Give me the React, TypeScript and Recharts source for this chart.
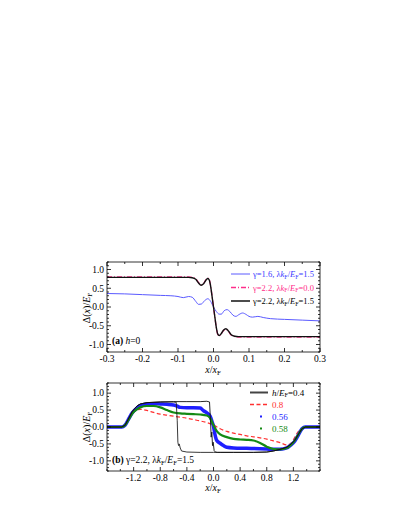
import React from "react";
import { LineChart, Line, XAxis, YAxis } from "recharts";

// panel (a): h = 0
const xBlueA = [-0.3, -0.25, -0.2, -0.15, -0.12, -0.1, -0.085, -0.07, -0.06, -0.05, -0.042, -0.034, -0.025, -0.016, -0.008, 0, 0.008, 0.016, 0.022, 0.03, 0.038, 0.046, 0.055, 0.063, 0.072, 0.082, 0.092, 0.1, 0.11, 0.125, 0.14, 0.16, 0.2, 0.25, 0.3];
const yBlueA = [0.36, 0.35, 0.33, 0.31, 0.3, 0.28, 0.25, 0.28, 0.26, 0.15, 0.07, 0.08, 0.17, 0.22, 0.15, 0.0, -0.12, -0.19, -0.19, -0.1, -0.07, -0.12, -0.22, -0.25, -0.2, -0.16, -0.2, -0.25, -0.27, -0.25, -0.28, -0.31, -0.33, -0.35, -0.37];

const xPinkA = [-0.3, -0.2, -0.1, -0.07, -0.06, -0.05, -0.042, -0.035, -0.028, -0.021, -0.016, -0.012, -0.008, -0.004, 0, 0.004, 0.008, 0.012, 0.016, 0.021, 0.028, 0.035, 0.042, 0.05, 0.06, 0.07, 0.1, 0.2, 0.3];
const yPinkA = [0.8, 0.8, 0.8, 0.8, 0.79, 0.75, 0.65, 0.59, 0.63, 0.73, 0.77, 0.73, 0.56, 0.28, 0, -0.28, -0.56, -0.73, -0.77, -0.73, -0.63, -0.59, -0.65, -0.75, -0.79, -0.8, -0.8, -0.8, -0.8];

const xBlackA = [-0.3, -0.2, -0.1, -0.07, -0.06, -0.05, -0.042, -0.035, -0.028, -0.021, -0.016, -0.012, -0.008, -0.004, 0, 0.004, 0.008, 0.012, 0.016, 0.021, 0.028, 0.035, 0.042, 0.05, 0.06, 0.07, 0.1, 0.2, 0.3];
const yBlackA = [0.79, 0.79, 0.79, 0.79, 0.78, 0.74, 0.64, 0.58, 0.62, 0.72, 0.76, 0.72, 0.55, 0.28, 0, -0.28, -0.55, -0.72, -0.76, -0.72, -0.62, -0.58, -0.64, -0.74, -0.78, -0.79, -0.79, -0.79, -0.79];

// panel (b): gamma = 2.2, lambda kF/EF = 1.5
const xRedB = [-1.6, -1.4, -1.35, -1.3, -1.25, -1.2, -1.15, -1.1, -1.0, -0.9, -0.8, -0.7, -0.6, -0.5, -0.4, -0.3, -0.2, -0.1, 0, 0.1, 0.2, 0.3, 0.4, 0.5, 0.6, 0.7, 0.8, 0.9, 1.0, 1.1, 1.15, 1.2, 1.25, 1.3, 1.35, 1.4, 1.6];
const yRedB = [0, 0, 0.02, 0.12, 0.3, 0.44, 0.5, 0.52, 0.49, 0.43, 0.38, 0.35, 0.32, 0.29, 0.26, 0.22, 0.18, 0.13, 0.06, -0.05, -0.13, -0.18, -0.22, -0.26, -0.29, -0.32, -0.36, -0.41, -0.46, -0.53, -0.5, -0.38, -0.2, -0.08, -0.02, 0, 0];

const xBlueB = [-1.6, -1.38, -1.33, -1.28, -1.22, -1.15, -1.1, -1.0, -0.9, -0.8, -0.7, -0.6, -0.55, -0.5, -0.4, -0.3, -0.2, -0.15, -0.1, -0.05, -0.02, 0, 0.02, 0.05, 0.1, 0.15, 0.2, 0.3, 0.5, 0.7, 0.8, 0.9, 1.0, 1.1, 1.15, 1.22, 1.28, 1.33, 1.38, 1.6];
const yBlueB = [0, 0, 0.05, 0.22, 0.42, 0.56, 0.63, 0.68, 0.69, 0.68, 0.67, 0.65, 0.62, 0.58, 0.57, 0.57, 0.56, 0.48, 0.42, 0.32, 0.15, 0.02, -0.2, -0.4, -0.48, -0.55, -0.6, -0.62, -0.63, -0.64, -0.65, -0.66, -0.66, -0.62, -0.55, -0.42, -0.22, -0.05, 0, 0];

const xGreenB = [-1.6, -1.38, -1.33, -1.28, -1.22, -1.15, -1.1, -1.0, -0.9, -0.8, -0.7, -0.6, -0.5, -0.4, -0.3, -0.2, -0.1, -0.05, 0, 0.05, 0.1, 0.2, 0.3, 0.4, 0.5, 0.6, 0.7, 0.8, 0.9, 1.0, 1.1, 1.15, 1.22, 1.28, 1.33, 1.38, 1.6];
const yGreenB = [0, 0, 0.05, 0.2, 0.4, 0.52, 0.58, 0.62, 0.62, 0.58, 0.5, 0.43, 0.4, 0.39, 0.38, 0.37, 0.34, 0.26, 0.05, -0.12, -0.22, -0.3, -0.35, -0.37, -0.38, -0.4, -0.47, -0.58, -0.65, -0.66, -0.62, -0.55, -0.4, -0.2, -0.05, 0, 0];

const xBlk1B = [-1.6, -1.38, -1.33, -1.28, -1.22, -1.15, -1.1, -1.0, -0.8, -0.6, -0.4, -0.2, -0.1, -0.06, -0.045, -0.035, -0.025, -0.015, -0.005, 0.01, 0.03, 0.06, 0.1, 0.3, 0.6, 0.8, 0.9, 1.0, 1.1, 1.15, 1.22, 1.28, 1.33, 1.38, 1.6];
const yBlk1B = [0, 0, 0.05, 0.23, 0.46, 0.62, 0.68, 0.72, 0.74, 0.75, 0.75, 0.75, 0.76, 0.74, 0.2, -0.3, -0.15, -0.55, -0.45, -0.7, -0.74, -0.75, -0.75, -0.75, -0.75, -0.74, -0.71, -0.66, -0.6, -0.53, -0.4, -0.2, -0.05, 0, 0];

const xBlk2B = [-1.6, -1.38, -1.33, -1.28, -1.22, -1.15, -1.1, -1.0, -0.8, -0.6, -0.56, -0.545, -0.535, -0.525, -0.515, -0.5, -0.48, -0.4, -0.2, 0, 0.1, 0.3, 0.6, 0.8, 0.9, 1.0, 1.1, 1.15, 1.22, 1.28, 1.33, 1.38, 1.6];
const yBlk2B = [0, 0, 0.05, 0.23, 0.46, 0.62, 0.68, 0.72, 0.74, 0.74, 0.73, 0.2, -0.45, -0.55, -0.5, -0.62, -0.71, -0.74, -0.75, -0.75, -0.75, -0.75, -0.75, -0.74, -0.71, -0.66, -0.6, -0.53, -0.4, -0.2, -0.05, 0, 0];

// tick labels
const xMajorA = [-0.3, -0.2, -0.1, 0, 0.1, 0.2, 0.3];
const xMajorB = [-1.2, -0.8, -0.4, 0, 0.4, 0.8, 1.2];
const yMajor = [-1.0, -0.5, 0, 0.5, 1.0];

const FONT = "'Liberation Serif', 'Times New Roman', Tinos, 'DejaVu Serif', serif";

const pts = (xs: number[], ys: number[]) => xs.map((x, i) => ({ x, y: ys[i] }));

const grid = (lo: number, hi: number, step: number) => {
  const out: number[] = [];
  const n = Math.round((hi - lo) / step);
  for (let i = 0; i <= n; i++) out.push(Math.round((lo + i * step) * 1e6) / 1e6);
  return out;
};

type Side = "bottom" | "top" | "left" | "right";

const makeTick = (side: Side, majors: number[], labels: boolean) => (p: any) => {
  const { x, y, payload } = p;
  const v = payload.value as number;
  const major = majors.some((m) => Math.abs(m - v) < 1e-6);
  const len = major ? 4 : 2;
  let x2 = x, y2 = y;
  if (side === "bottom") y2 = y - len;
  if (side === "top") y2 = y + len;
  if (side === "left") x2 = x + len;
  if (side === "right") x2 = x - len;
  return (
    <g>
      <line x1={x} y1={y} x2={x2} y2={y2} stroke="#000" strokeWidth={0.8} />
      {labels && major && side === "bottom" && (
        <text x={x} y={y + 10} textAnchor="middle" fontSize={9.5} fontFamily={FONT} fill="#000">
          {v.toFixed(1)}
        </text>
      )}
      {labels && major && side === "left" && (
        <text x={x - 3} y={y + 3.3} textAnchor="end" fontSize={9.5} fontFamily={FONT} fill="#000">
          {v.toFixed(1)}
        </text>
      )}
    </g>
  );
};

const Sub = ({ children }: { children: React.ReactNode }) => (
  <span style={{ fontSize: "0.7em", position: "relative", top: "0.3em" }}>{children}</span>
);

const Lbl = ({ x, y, size = 9, color = "#000", children }: any) => (
  <div
    style={{
      position: "absolute",
      left: x,
      top: y,
      transform: "translateY(-50%)",
      fontFamily: FONT,
      fontSize: size,
      color,
      lineHeight: 1,
      whiteSpace: "nowrap",
    }}
  >
    {children}
  </div>
);

const YTitle = ({ y }: { y: number }) => (
  <div
    style={{
      position: "absolute",
      left: 87,
      top: y,
      transform: "translate(-50%, -50%) rotate(-90deg)",
      fontFamily: FONT,
      fontSize: 10,
      whiteSpace: "nowrap",
      lineHeight: 1,
    }}
  >
    Δ(<i>x</i>)/<i>E</i>
    <Sub>F</Sub>
  </div>
);

const XTitle = ({ y }: { y: number }) => (
  <div
    style={{
      position: "absolute",
      left: 213,
      top: y,
      transform: "translate(-50%, -50%)",
      fontFamily: FONT,
      fontSize: 10,
      whiteSpace: "nowrap",
      lineHeight: 1,
    }}
  >
    <i>x</i>/<i>x</i>
    <Sub>F</Sub>
  </div>
);

export default function App() {
  const xtA = grid(-0.3, 0.3, 0.05);
  const xtB = grid(-1.6, 1.6, 0.2);
  const ytA = grid(-1.2, 1.2, 0.1);
  const ytB = grid(-1.3, 1.3, 0.1);
  const ax = { stroke: "#000", strokeWidth: 0.8 };
  return (
    <div style={{ position: "absolute", left: 0, top: 0, width: 399, height: 516, background: "#fff" }}>
      <div style={{ position: "absolute", left: 0, top: 240 }}>
        <LineChart width={399} height={140} margin={{ top: 17, right: 74, bottom: 8, left: 77 }}>
          <XAxis dataKey="x" type="number" domain={[-0.3, 0.3]} ticks={xtA} interval={0} tickSize={0} tickMargin={0} tickLine={false} tick={makeTick("bottom", xMajorA, true)} axisLine={ax} height={20} allowDataOverflow />
          <XAxis xAxisId="top" orientation="top" dataKey="x" type="number" domain={[-0.3, 0.3]} ticks={xtA} interval={0} tickSize={0} tickMargin={0} tickLine={false} tick={makeTick("top", xMajorA, false)} axisLine={ax} height={5} allowDataOverflow />
          <YAxis type="number" domain={[-1.2, 1.2]} ticks={ytA} interval={0} tickSize={0} tickMargin={0} tickLine={false} tick={makeTick("left", yMajor, true)} axisLine={ax} width={30} allowDataOverflow />
          <YAxis yAxisId="right" orientation="right" type="number" domain={[-1.2, 1.2]} ticks={ytA} interval={0} tickSize={0} tickMargin={0} tickLine={false} tick={makeTick("right", yMajor, false)} axisLine={ax} width={5} allowDataOverflow />
          <Line data={pts(xBlueA, yBlueA)} dataKey="y" type="monotone" stroke="#5a5aff" strokeWidth={1} dot={false} isAnimationActive={false} />
          <Line data={pts(xPinkA, yPinkA)} dataKey="y" type="monotone" stroke="#ff2d8a" strokeWidth={1.3} strokeDasharray="5 2 1 2" dot={false} isAnimationActive={false} />
          <Line data={pts(xBlackA, yBlackA)} dataKey="y" type="monotone" stroke="#111" strokeWidth={1.4} dot={false} isAnimationActive={false} />
        </LineChart>
      </div>

      <div style={{ position: "absolute", left: 0, top: 370 }}>
        <LineChart width={399} height={120} margin={{ top: 8, right: 74, bottom: 0, left: 77 }}>
          <XAxis dataKey="x" type="number" domain={[-1.6, 1.6]} ticks={xtB} interval={0} tickSize={0} tickMargin={0} tickLine={false} tick={makeTick("bottom", xMajorB, true)} axisLine={ax} height={19} allowDataOverflow />
          <XAxis xAxisId="top" orientation="top" dataKey="x" type="number" domain={[-1.6, 1.6]} ticks={xtB} interval={0} tickSize={0} tickMargin={0} tickLine={false} tick={makeTick("top", xMajorB, false)} axisLine={ax} height={5} allowDataOverflow />
          <YAxis type="number" domain={[-1.3, 1.3]} ticks={ytB} interval={0} tickSize={0} tickMargin={0} tickLine={false} tick={makeTick("left", yMajor, true)} axisLine={ax} width={30} allowDataOverflow />
          <YAxis yAxisId="right" orientation="right" type="number" domain={[-1.3, 1.3]} ticks={ytB} interval={0} tickSize={0} tickMargin={0} tickLine={false} tick={makeTick("right", yMajor, false)} axisLine={ax} width={5} allowDataOverflow />
          <Line data={pts(xRedB, yRedB)} dataKey="y" type="monotone" stroke="#ff3030" strokeWidth={1.2} strokeDasharray="4 2.5" dot={false} isAnimationActive={false} />
          <Line data={pts(xBlueB, yBlueB)} dataKey="y" type="monotone" stroke="#1f1fff" strokeWidth={3.5} dot={false} isAnimationActive={false} />
          <Line data={pts(xGreenB, yGreenB)} dataKey="y" type="monotone" stroke="#148a14" strokeWidth={2.2} dot={false} isAnimationActive={false} />
          <Line data={pts(xBlk2B, yBlk2B)} dataKey="y" type="linear" stroke="#222" strokeWidth={0.9} dot={false} isAnimationActive={false} />
          <Line data={pts(xBlk1B, yBlk1B)} dataKey="y" type="linear" stroke="#111" strokeWidth={0.9} dot={false} isAnimationActive={false} />
        </LineChart>
      </div>

      {/* legend samples */}
      <svg width={399} height={516} style={{ position: "absolute", left: 0, top: 0, pointerEvents: "none" }}>
        <line x1={231} x2={250} y1={274} y2={274} stroke="#5a5aff" strokeWidth={1} />
        <line x1={231} x2={250} y1={287.5} y2={287.5} stroke="#ff2d8a" strokeWidth={1.3} strokeDasharray="5 2 1 2" />
        <line x1={231} x2={250} y1={301} y2={301} stroke="#111" strokeWidth={1.5} />
        <line x1={250} x2={268} y1={392.5} y2={392.5} stroke="#444" strokeWidth={2} />
        <line x1={250} x2={268} y1={404.5} y2={404.5} stroke="#ff3030" strokeWidth={1.3} strokeDasharray="4 2.5" />
        <rect x={260} y={415.5} width={2} height={2} fill="#1f1fff" />
        <rect x={260} y={427.5} width={2} height={2} fill="#148a14" />
      </svg>

      <Lbl x={253} y={274} size={8.5} color="#3a3aff">
        γ=1.6, λ<i>k</i><Sub>F</Sub>/<i>E</i><Sub>F</Sub>=1.5
      </Lbl>
      <Lbl x={253} y={287.5} size={8.5} color="#ff2d8a">
        γ=2.2, λ<i>k</i><Sub>F</Sub>/<i>E</i><Sub>F</Sub>=0.0
      </Lbl>
      <Lbl x={253} y={301} size={8.5} color="#000">
        γ=2.2, λ<i>k</i><Sub>F</Sub>/<i>E</i><Sub>F</Sub>=1.5
      </Lbl>
      <Lbl x={112} y={342} size={9.5}>
        <b>(a)</b> <i>h</i>=0
      </Lbl>

      <Lbl x={272} y={392.5}>
        <i>h</i>/<i>E</i><Sub>F</Sub>=0.4
      </Lbl>
      <Lbl x={272} y={404.5} color="#ff3030">0.8</Lbl>
      <Lbl x={272} y={416.5} color="#1f1fff">0.56</Lbl>
      <Lbl x={272} y={428.5} color="#148a14">0.58</Lbl>
      <Lbl x={112} y={461} size={9.5}>
        <b>(b)</b> γ=2.2, λ<i>k</i><Sub>F</Sub>/<i>E</i><Sub>F</Sub>=1.5
      </Lbl>

      <YTitle y={308} />
      <YTitle y={427} />
      <XTitle y={370} />
      <XTitle y={488} />
    </div>
  );
}
